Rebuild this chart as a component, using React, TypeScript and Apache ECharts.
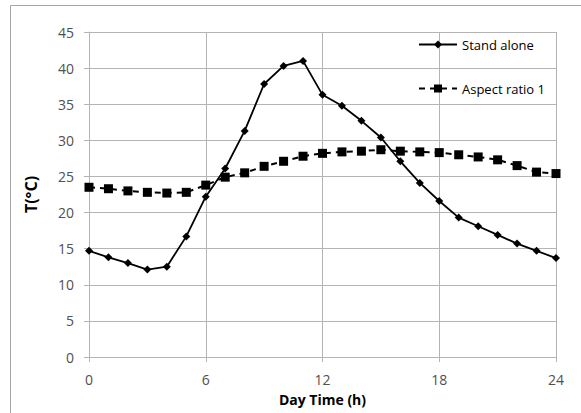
import React, { useEffect, useRef } from "react";
import * as echarts from "echarts";

const hours = [0, 1, 2, 3, 4, 5, 6, 7, 8, 9, 10, 11, 12, 13, 14, 15, 16, 17, 18, 19, 20, 21, 22, 23, 24];
const standAlone = [14.7, 13.8, 13.0, 12.1, 12.5, 16.7, 22.2, 26.1, 31.3, 37.8, 40.3, 41.0, 36.3, 34.8, 32.7, 30.4, 27.1, 24.1, 21.6, 19.3, 18.1, 16.9, 15.7, 14.7, 13.7];
const aspectRatio1 = [23.5, 23.3, 23.0, 22.8, 22.7, 22.8, 23.8, 24.9, 25.5, 26.4, 27.1, 27.8, 28.2, 28.4, 28.5, 28.7, 28.5, 28.4, 28.3, 28.0, 27.7, 27.3, 26.5, 25.6, 25.4];
const seriesNames = ["Stand alone", "Aspect ratio 1"];
const xTitle = "Day Time (h)";
const yTitle = "T(°C)";

const FONT = "'Open Sans', 'Noto Sans', sans-serif";

export default function App() {
  const ref = useRef<HTMLDivElement>(null);
  useEffect(() => {
    if (!ref.current) return;
    const chart = echarts.init(ref.current, undefined, { renderer: "svg" });
    const gridColor = "#b4b4b4";
    chart.setOption({
      animation: false,
      backgroundColor: "#ffffff",
      grid: { left: 89, top: 32, width: 467, height: 325, containLabel: false },
      xAxis: {
        type: "value",
        min: 0,
        max: 24,
        interval: 6,
        name: xTitle,
        nameLocation: "middle",
        nameGap: 35,
        nameTextStyle: { fontFamily: FONT, fontWeight: "bold", fontSize: 14, color: "#000" },
        axisLine: { show: true, lineStyle: { color: gridColor, width: 1 } },
        axisTick: { show: true, length: 5, inside: false, lineStyle: { color: gridColor } },
        axisLabel: { fontFamily: FONT, fontSize: 14, color: "#505050", margin: 15 },
        splitLine: { show: true, lineStyle: { color: gridColor, width: 1 } },
      },
      yAxis: {
        type: "value",
        min: 0,
        max: 45,
        interval: 5,
        name: yTitle,
        nameLocation: "middle",
        nameGap: 50,
        nameRotate: 90,
        nameTextStyle: { fontFamily: FONT, fontWeight: "bold", fontSize: 16, color: "#000" },
        axisLine: { show: true, lineStyle: { color: gridColor, width: 1 } },
        axisTick: { show: true, length: 5, inside: false, lineStyle: { color: gridColor } },
        axisLabel: { fontFamily: FONT, fontSize: 14, color: "#505050", margin: 15 },
        splitLine: { show: true, lineStyle: { color: gridColor, width: 1 } },
      },
      legend: {
        orient: "vertical",
        left: 418,
        top: 38,
        padding: 0,
        itemWidth: 38,
        itemHeight: 10,
        itemGap: 31,
        textStyle: { fontFamily: FONT, fontSize: 13, color: "#000" },
        data: seriesNames,
      },
      graphic: [
        {
          type: "rect",
          silent: true,
          shape: { x: 10.5, y: 5.5, width: 600, height: 450 },
          style: { fill: "none", stroke: "#a6a6a6", lineWidth: 1 },
        },
      ],
      series: [
        {
          name: seriesNames[0],
          type: "line",
          data: hours.map((h, i) => [h, standAlone[i]]),
          symbol: "diamond",
          symbolSize: 8,
          itemStyle: { color: "#000" },
          lineStyle: { color: "#000", width: 1.8, type: "solid" },
          z: 3,
        },
        {
          name: seriesNames[1],
          type: "line",
          data: hours.map((h, i) => [h, aspectRatio1[i]]),
          symbol: "rect",
          symbolSize: 9,
          itemStyle: { color: "#000" },
          lineStyle: { color: "#000", width: 2, type: [6, 5] },
          z: 2,
        },
      ],
    });
    return () => chart.dispose();
  }, []);
  return (
    <div
      ref={ref}
      style={{ position: "fixed", left: 0, top: 0, width: 581, height: 413, background: "#fff" }}
    />
  );
}
